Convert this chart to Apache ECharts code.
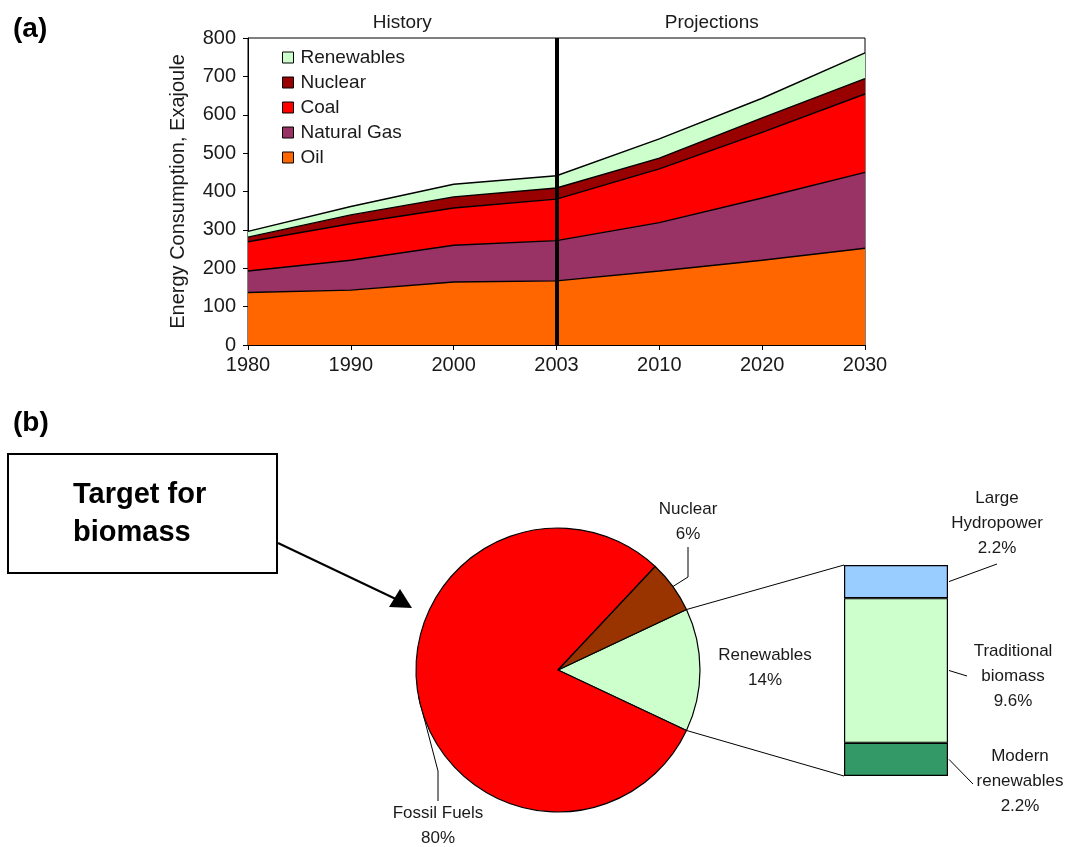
<!DOCTYPE html>
<html>
<head>
<meta charset="utf-8">
<script src="https://cdn.jsdelivr.net/npm/echarts@6/dist/echarts.min.js"></script>
<style>
  html, body { margin: 0; background: #fff; }
  #chart { width: 1068px; height: 847px; }
</style>
</head>
<body>
<div id="chart"></div>
<script>
// (a) energy consumption, exajoule (stacked)
const years = ['1980', '1990', '2000', '2003', '2010', '2020', '2030'];
const oil = [137, 143, 164, 167, 193, 221, 252];
const naturalGas = [56, 78, 96, 105, 126, 162, 198];
const coal = [76, 95, 97, 108, 140, 171, 204];
const nuclear = [12, 23, 29, 29, 28, 38, 40];
const renewables = [15, 22, 33, 32, 50, 51, 67];
const splitYear = '2003';

// (b) share of world energy, %
const pieNames = ['Renewables', 'Fossil Fuels', 'Nuclear'];
const pieValues = [14, 80, 6];
const renewNames = ['Modern renewables', 'Traditional biomass', 'Large Hydropower'];
const renewValues = [2.2, 9.6, 2.2];

const font = '"Liberation Sans", Arial, sans-serif';
const txt = '#1a1a1a';

const chart = echarts.init(document.getElementById('chart'));

const pieCenter = [558, 670];
const pieRadius = 142;
const pieTotal = pieValues.reduce((a, b) => a + b, 0);
const pieStart = pieValues[0] / pieTotal * 180; // renewables wedge centred on the right
const pieColors = ['#ccffcc', '#ff0000', '#993300'];
const pieLabelPos = [[765, 668], [438, 826], [688, 522]];

const barGrid = { left: 844, top: 565, width: 104, height: 211 };
const renewColors = ['#339966', '#ccffcc', '#99ccff'];
const renewLabelPos = [[1020, 781], [1013, 676], [997, 523]];
// where each leader line of the bar labels ends, relative to the label centre
const renewLeaderEnd = [[-47, 3], [-46, 0], [0, 41]];

function areaSeries(name, data, color) {
  return {
    name: name,
    type: 'line',
    stack: 'energy',
    data: data,
    symbol: 'none',
    itemStyle: { color: color },
    lineStyle: { color: '#000', width: 1.4 },
    areaStyle: { color: color, opacity: 1 }
  };
}

const series = [
  areaSeries('Oil', oil, '#ff6600'),
  areaSeries('Natural Gas', naturalGas, '#993366'),
  areaSeries('Coal', coal, '#ff0000'),
  areaSeries('Nuclear', nuclear, '#990000'),
  areaSeries('Renewables', renewables, '#ccffcc')
];
// heavy line between history and projections
series[4].markLine = {
  silent: true,
  symbol: 'none',
  label: { show: false },
  lineStyle: { color: '#000', width: 4, type: 'solid' },
  data: [{ xAxis: splitYear }]
};

series.push({
  type: 'pie',
  center: pieCenter,
  radius: pieRadius,
  startAngle: pieStart,
  clockwise: true,
  legendHoverLink: false,
  emphasis: { disabled: true },
  itemStyle: { borderColor: '#000', borderWidth: 1.2 },
  label: {
    show: true,
    formatter: '{b}\n{c}%',
    fontFamily: font,
    fontSize: 17,
    lineHeight: 25,
    color: txt
  },
  labelLine: { show: true, lineStyle: { color: '#000', width: 1 } },
  labelLayout: function (p) {
    const pos = pieLabelPos[p.dataIndex];
    return { x: pos[0], y: pos[1], align: 'center', verticalAlign: 'middle' };
  },
  data: pieNames.map((n, i) => ({
    name: n,
    value: pieValues[i],
    itemStyle: { color: pieColors[i] },
    labelLine: { show: i !== 0 }
  }))
});

renewNames.forEach((n, i) => {
  series.push({
    name: n,
    type: 'bar',
    xAxisIndex: 1,
    yAxisIndex: 1,
    stack: 'renew',
    barWidth: '100%',
    data: [renewValues[i]],
    itemStyle: { color: renewColors[i], borderColor: '#000', borderWidth: 1.2 },
    emphasis: { disabled: true },
    label: {
      show: true,
      position: 'right',
      formatter: p => p.seriesName.replace(' ', '\n') + '\n' + p.value + '%',
      fontFamily: font,
      fontSize: 17,
      lineHeight: 25,
      color: txt
    },
    labelLayout: { x: renewLabelPos[i][0], y: renewLabelPos[i][1], align: 'center', verticalAlign: 'middle' }
  });
});

const option = {
  animation: false,
  backgroundColor: '#fff',
  textStyle: { fontFamily: font },
  title: [
    { text: '(a)', left: 8, top: 10, textStyle: { fontSize: 28, fontWeight: 'bold', color: '#000', fontFamily: font } },
    { text: '(b)', left: 8, top: 404, textStyle: { fontSize: 28, fontWeight: 'bold', color: '#000', fontFamily: font } }
  ],
  legend: {
    data: ['Renewables', 'Nuclear', 'Coal', 'Natural Gas', 'Oil'],
    orient: 'vertical',
    left: 282,
    top: 48,
    padding: 0,
    itemGap: 6,
    itemWidth: 11,
    itemHeight: 11,
    icon: 'rect',
    selectedMode: false,
    itemStyle: { borderColor: '#000', borderWidth: 1 },
    textStyle: { fontSize: 19, lineHeight: 19, color: txt, fontFamily: font, padding: [0, 0, 0, 2] }
  },
  grid: [
    { left: 248, top: 38, width: 617, height: 307, show: true, borderColor: '#000', borderWidth: 1 },
    barGrid
  ],
  xAxis: [
    {
      type: 'category',
      data: years,
      boundaryGap: false,
      axisLine: { lineStyle: { color: '#000', width: 1 } },
      axisTick: { show: true, length: 5, lineStyle: { color: '#000' } },
      axisLabel: { fontSize: 20, color: txt, margin: 10, fontFamily: font }
    },
    { type: 'category', gridIndex: 1, data: ['Renewables'], show: false }
  ],
  yAxis: [
    {
      type: 'value',
      min: 0,
      max: 800,
      interval: 100,
      name: 'Energy Consumption, Exajoule',
      nameLocation: 'middle',
      nameGap: 60,
      nameTextStyle: { fontSize: 20, color: txt, fontFamily: font },
      splitLine: { show: false },
      axisLine: { show: true, lineStyle: { color: '#000', width: 1 } },
      axisTick: { show: true, length: 5, lineStyle: { color: '#000' } },
      axisLabel: { fontSize: 20, color: txt, margin: 12, fontFamily: font }
    },
    { type: 'value', gridIndex: 1, min: 0, max: 14, show: false }
  ],
  series: series
};

chart.setOption(option);

// annotations: History / Projections, zoom lines from pie to bar, bar leaders, biomass box and arrow
const a = pieStart * Math.PI / 180;
const pTop = [pieCenter[0] + pieRadius * Math.cos(a), pieCenter[1] - pieRadius * Math.sin(a)];
const pBot = [pieCenter[0] + pieRadius * Math.cos(a), pieCenter[1] + pieRadius * Math.sin(a)];
const renewTotal = renewValues.reduce((s, v) => s + v, 0);
const barTopY = chart.convertToPixel({ gridIndex: 1 }, [0, renewTotal])[1];
const barBotY = chart.convertToPixel({ gridIndex: 1 }, [0, 0])[1];
const barRight = barGrid.left + barGrid.width;
const splitX = chart.convertToPixel({ gridIndex: 0 }, [splitYear, 0])[0];
const leftX = chart.convertToPixel({ gridIndex: 0 }, [years[0], 0])[0];
const rightX = chart.convertToPixel({ gridIndex: 0 }, [years[years.length - 1], 0])[0];

const leaders = [];
let cum = 0;
renewValues.forEach((v, i) => {
  const midY = chart.convertToPixel({ gridIndex: 1 }, [0, cum + v / 2])[1];
  cum += v;
  const end = [renewLabelPos[i][0] + renewLeaderEnd[i][0], renewLabelPos[i][1] + renewLeaderEnd[i][1]];
  leaders.push({
    type: 'polyline',
    shape: { points: [[barRight + 1, midY], end] },
    style: { stroke: '#000', lineWidth: 1, fill: null }
  });
});

chart.setOption({
  graphic: [
    { type: 'text', x: (leftX + splitX) / 2, y: 23, style: { text: 'History', font: '19px ' + font, fill: txt, align: 'center', verticalAlign: 'middle' } },
    { type: 'text', x: (splitX + rightX) / 2 + 1, y: 23, style: { text: 'Projections', font: '19px ' + font, fill: txt, align: 'center', verticalAlign: 'middle' } },
    { type: 'line', shape: { x1: pTop[0], y1: pTop[1], x2: barGrid.left, y2: barTopY }, style: { stroke: '#000', lineWidth: 1 } },
    { type: 'line', shape: { x1: pBot[0], y1: pBot[1], x2: barGrid.left, y2: barBotY }, style: { stroke: '#000', lineWidth: 1 } },
    ...leaders,
    { type: 'rect', shape: { x: 8, y: 454, width: 269, height: 119 }, style: { fill: '#fff', stroke: '#000', lineWidth: 2 } },
    { type: 'text', x: 73, y: 514, style: { text: 'Target for\nbiomass', font: 'bold 29px ' + font, lineHeight: 38, fill: '#000', verticalAlign: 'middle' } },
    { type: 'line', shape: { x1: 278, y1: 543, x2: 400, y2: 601 }, style: { stroke: '#000', lineWidth: 2 } },
    { type: 'polygon', shape: { points: [[412, 608], [389, 607], [400, 589]] }, style: { fill: '#000' } }
  ]
});
</script>
</body>
</html>
